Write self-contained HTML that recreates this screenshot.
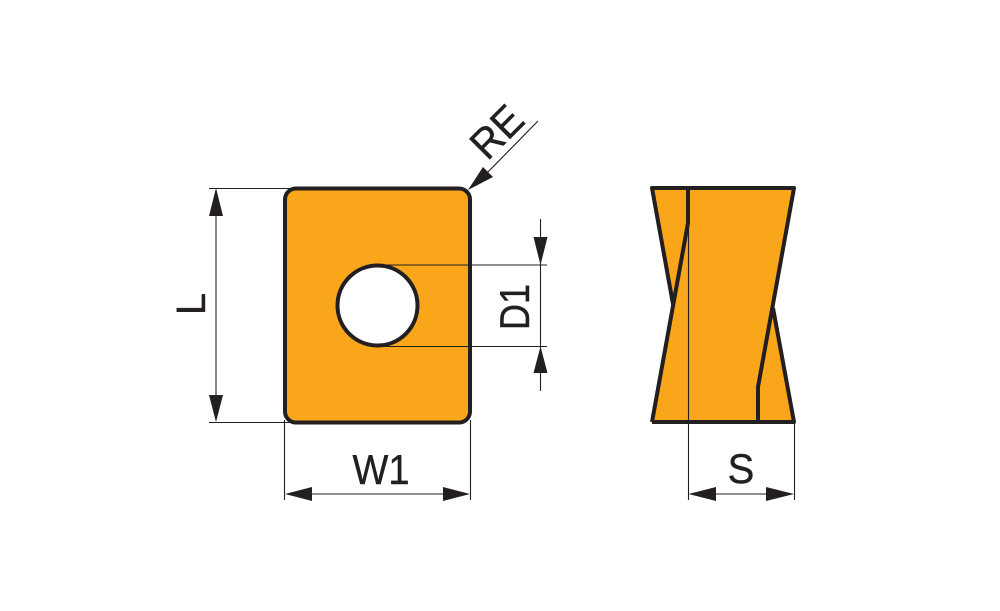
<!DOCTYPE html>
<html><head><meta charset="utf-8"><style>html,body{margin:0;padding:0;background:#fff}svg{display:block}text{font-family:"Liberation Sans",sans-serif;fill:#231F20;stroke:#231F20;stroke-width:.4;font-size:40px}</style></head><body>
<svg width="1000" height="611" viewBox="0 0 1000 611" xmlns="http://www.w3.org/2000/svg">
<rect x="285" y="188.5" width="185" height="234" rx="11" fill="#FAA61A" stroke="#231F20" stroke-width="4"/>
<circle cx="377.5" cy="305.5" r="40" fill="#fff" stroke="#231F20" stroke-width="4"/>
<polygon points="652,188 794,188 773,306 794,422 652,422 673,304" fill="#FAA61A"/>
<g fill="none" stroke="#231F20" stroke-width="4" stroke-linejoin="round">
<path d="M673,304 L652,188 H794 L758,387 V422 M652,422 H794 L773,308 M652,422 L688,223 V188"/>
</g>
<g stroke="#231F20" stroke-width="1.1" fill="none">
<path d="M209,188.5 H290 M209,422.5 H290 M216,210 V400"/>
<path d="M284.5,420 V500 M470.5,420 V500 M300,494 H455"/>
<path d="M385,265 H547 M385,346.5 H547 M540.5,219 V391"/>
<path d="M688.5,223 V500 M794.5,422 V500 M705,494 H780"/>
<path d="M538,121 L485,175"/>
</g>
<g fill="#231F20">
<polygon points="216,188 209,216 223,216"/>
<polygon points="216,422 209,395 223,395"/>
<polygon points="285,494 312,487 312,501"/>
<polygon points="470,494 443,487 443,501"/>
<polygon points="540.5,265 533.5,237 547.5,237"/>
<polygon points="540.5,346.5 533.5,373 547.5,373"/>
<polygon points="688.5,494 716,487 716,501"/>
<polygon points="794,494 766,487 766,501"/>
<polygon points="468,190 483,167 493,177"/>
</g>
<text transform="translate(381,484) scale(.95,1.05)" text-anchor="middle">W1</text>
<text transform="translate(741,483) scale(1,1.05)" text-anchor="middle">S</text>
<text transform="translate(205,304) rotate(-90) scale(1,1.02)" text-anchor="middle">L</text>
<text transform="translate(529,307) rotate(-90) scale(.9,1.05)" text-anchor="middle">D1</text>
<text transform="translate(507,142) rotate(-45) scale(1,1.05)" text-anchor="middle">RE</text>
</svg>
</body></html>
